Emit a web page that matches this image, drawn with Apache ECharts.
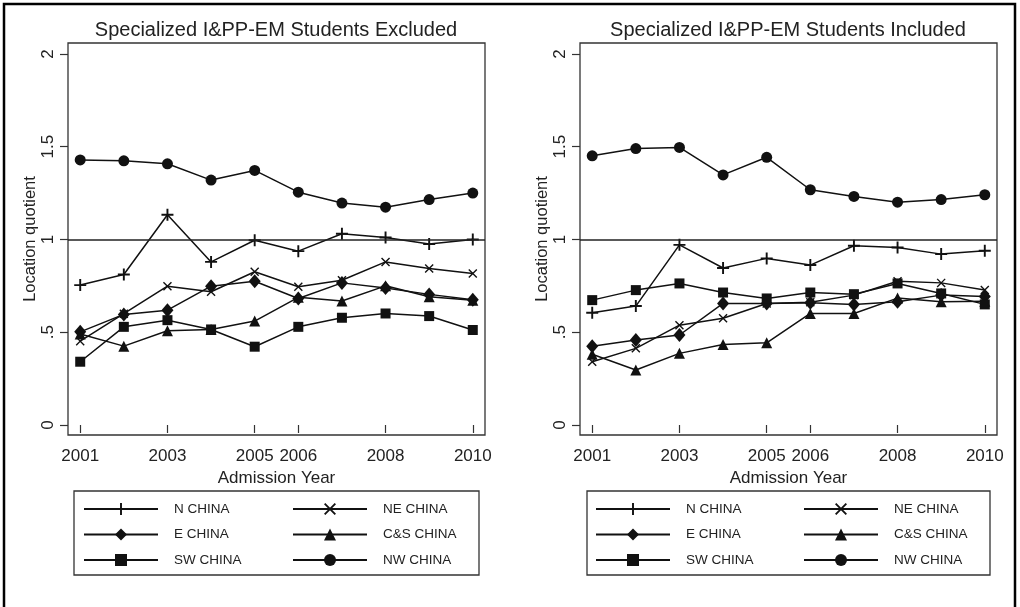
<!DOCTYPE html>
<html>
<head>
<meta charset="utf-8">
<script src="https://cdn.jsdelivr.net/npm/echarts@6/dist/echarts.min.js"></script>
<style>
html,body{margin:0;padding:0;background:#fff;}
#chart{width:1020px;height:607px;}
</style>
</head>
<body>
<div id="chart"></div>
<script>
// ---- data ----
const years = [2001, 2002, 2003, 2004, 2005, 2006, 2007, 2008, 2009, 2010];
const xTickYears = [2001, 2003, 2005, 2006, 2008, 2010];
const yTicks = [0, 0.5, 1, 1.5, 2];
const yTickLabels = ['0', '.5', '1', '1.5', '2'];
const regionNames = ['N CHINA', 'NE CHINA', 'E CHINA', 'C&S CHINA', 'SW CHINA', 'NW CHINA'];
const panelTitles = ['Specialized I&PP-EM Students Excluded', 'Specialized I&PP-EM Students Included'];
const referenceLevel = 1;

// Excluded panel
const exN  = [0.754, 0.811, 1.133, 0.879, 0.996, 0.937, 1.031, 1.011, 0.975, 1.000];
const exNE = [0.452, 0.600, 0.748, 0.718, 0.826, 0.745, 0.780, 0.879, 0.844, 0.817];
const exE  = [0.502, 0.596, 0.619, 0.748, 0.775, 0.682, 0.766, 0.739, 0.704, 0.675];
const exCS = [0.490, 0.425, 0.508, 0.515, 0.560, 0.688, 0.668, 0.750, 0.691, 0.672];
const exSW = [0.341, 0.529, 0.565, 0.515, 0.422, 0.529, 0.578, 0.601, 0.587, 0.512];
const exNW = [1.429, 1.424, 1.408, 1.320, 1.372, 1.255, 1.196, 1.174, 1.215, 1.250];

// Included panel
const inN  = [0.605, 0.641, 0.971, 0.846, 0.898, 0.862, 0.966, 0.957, 0.921, 0.939];
const inNE = [0.341, 0.413, 0.538, 0.575, 0.655, 0.662, 0.700, 0.775, 0.766, 0.727];
const inE  = [0.425, 0.458, 0.485, 0.655, 0.655, 0.659, 0.650, 0.664, 0.700, 0.692];
const inCS = [0.381, 0.296, 0.386, 0.434, 0.443, 0.601, 0.601, 0.684, 0.664, 0.667];
const inSW = [0.673, 0.727, 0.763, 0.714, 0.682, 0.714, 0.705, 0.763, 0.709, 0.650];
const inNW = [1.451, 1.490, 1.496, 1.348, 1.443, 1.268, 1.232, 1.201, 1.215, 1.241];

// ---- styling ----
const FONT = '"Liberation Sans", Arial, Helvetica, sans-serif';
const PLUS = 'path://M4.2,0H5.8V4.2H10V5.8H5.8V10H4.2V5.8H0V4.2H4.2Z';
const CROSS = 'path://M0,1.1L1.1,0L10,8.9L8.9,10Z M8.9,0L10,1.1L1.1,10L0,8.9Z';
const symbols = [PLUS, CROSS, 'diamond', 'triangle', 'rect', 'circle'];
const symbolSizes = [12, 9, [12, 14], 11, 10, 11];

const panels = [
  {vals: [exN, exNE, exE, exCS, exSW, exNW], left: 68, width: 417, cx: 276, legL: 83, legR: 292, boxL: 74, boxW: 405},
  {vals: [inN, inNE, inE, inCS, inSW, inNW], left: 580, width: 417, cx: 788, legL: 595, legR: 803, boxL: 587, boxW: 403}
];
const gridTop = 43, gridH = 392;

const grids = [], xAxes = [], yAxes = [], series = [], legends = [], graphics = [];

panels.forEach((p, pi) => {
  grids.push({left: p.left, top: gridTop, width: p.width, height: gridH, show: true,
    borderColor: '#333', borderWidth: 1.3, backgroundColor: '#fff'});
  xAxes.push({type: 'value', gridIndex: pi, min: 2000.72, max: 2010.28,
    name: 'Admission Year', nameLocation: 'middle', nameGap: 30,
    nameTextStyle: {fontFamily: FONT, fontSize: 17, color: '#222'},
    axisLine: {show: false}, splitLine: {show: false},
    axisTick: {show: true, length: 8, customValues: xTickYears, lineStyle: {color: '#333', width: 1.2}},
    axisLabel: {customValues: xTickYears, fontFamily: FONT, fontSize: 17, color: '#222', margin: 13,
      formatter: v => String(v)}
  });
  yAxes.push({type: 'value', gridIndex: pi, min: -0.054, max: 2.059,
    name: 'Location quotient', nameLocation: 'middle', nameGap: 29,
    nameTextStyle: {fontFamily: FONT, fontSize: 16.5, color: '#222'},
    axisLine: {show: false}, splitLine: {show: false},
    axisTick: {show: true, length: 8, customValues: yTicks, lineStyle: {color: '#333', width: 1.2}},
    axisLabel: {customValues: yTicks, rotate: 90, fontFamily: FONT, fontSize: 17, color: '#222', margin: 11,
      formatter: v => { const i = yTicks.indexOf(+(+v).toFixed(3)); return i >= 0 ? yTickLabels[i] : ''; }}
  });
  p.vals.forEach((arr, si) => {
    const s = {
      type: 'line', name: regionNames[si], xAxisIndex: pi, yAxisIndex: pi,
      data: years.map((y, k) => [y, arr[k]]),
      symbol: symbols[si], symbolSize: symbolSizes[si], showAllSymbol: true,
      lineStyle: {color: '#111', width: 1.5}, itemStyle: {color: '#111'},
      emphasis: {disabled: true}, animation: false, z: 3
    };
    if (si === 0) {
      s.markLine = {silent: true, symbol: 'none', label: {show: false},
        lineStyle: {color: '#222', width: 1.5, type: 'solid'},
        data: [{yAxis: referenceLevel}]};
    }
    series.push(s);
  });
  const legCommon = {orient: 'vertical', top: 502, itemWidth: 74, itemHeight: 15, itemGap: 11.5, padding: 0,
    selectedMode: false,
    textStyle: {fontFamily: FONT, fontSize: 13.5, color: '#222', padding: [0, 0, 0, 11]}};
  legends.push(Object.assign({}, legCommon, {left: p.legL, data: [regionNames[0], regionNames[2], regionNames[4]]}));
  legends.push(Object.assign({}, legCommon, {left: p.legR, data: [regionNames[1], regionNames[3], regionNames[5]]}));
  graphics.push({type: 'rect', shape: {x: p.boxL, y: 491, width: p.boxW, height: 84},
    style: {fill: 'none', stroke: '#333', lineWidth: 1.3}, z: 10});
  graphics.push({type: 'text', x: p.cx, y: 30,
    style: {text: panelTitles[pi], fontFamily: FONT, fontSize: 20, fill: '#222', textAlign: 'center', textVerticalAlign: 'middle'}});
});
graphics.push({type: 'rect', shape: {x: 4, y: 4, width: 1011, height: 650},
  style: {fill: 'none', stroke: '#000', lineWidth: 2.5}, z: 10});

const chart = echarts.init(document.getElementById('chart'), null, {renderer: 'canvas'});
chart.setOption({
  animation: false,
  backgroundColor: '#fff',
  grid: grids, xAxis: xAxes, yAxis: yAxes, series: series, legend: legends, graphic: graphics
});
</script>
</body>
</html>
